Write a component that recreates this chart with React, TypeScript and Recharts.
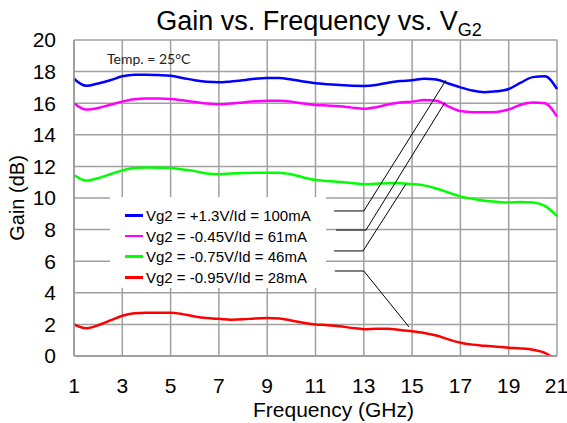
import {
  LineChart,
  Line,
  XAxis,
  YAxis,
  CartesianGrid,
  Legend,
  ReferenceLine,
} from "recharts"

// frecuencia en GHz, un punto cada 0.5 GHz
const freqs = [
  1, 1.5, 2, 2.5, 3, 3.5, 4, 4.5, 5, 5.5, 6, 6.5, 7, 7.5, 8, 8.5, 9, 9.5, 10, 10.5, 11,
  11.5, 12, 12.5, 13, 13.5, 14, 14.5, 15, 15.5, 16, 16.5, 17, 17.5, 18, 18.5, 19, 19.5, 20,
  20.5, 21,
]

const gainVg2p13 = [
  17.55, 17.1, 17.25, 17.45, 17.7, 17.8, 17.8, 17.78, 17.74, 17.6, 17.45, 17.35, 17.32, 17.38,
  17.45, 17.55, 17.6, 17.6, 17.5, 17.38, 17.26, 17.2, 17.15, 17.1, 17.09, 17.15, 17.3, 17.4,
  17.45, 17.55, 17.5, 17.25, 17.0, 16.8, 16.7, 16.75, 16.9, 17.3, 17.65, 17.7, 16.9,
]

const gainVg2m045 = [
  16.0, 15.6, 15.7, 15.9, 16.1, 16.25, 16.3, 16.3, 16.27, 16.18, 16.08, 15.98, 15.93, 15.98,
  16.05, 16.12, 16.16, 16.16, 16.1, 15.98, 15.89, 15.85, 15.8, 15.72, 15.65, 15.75, 15.92,
  16.05, 16.1, 16.2, 16.15, 15.8, 15.5, 15.43, 15.42, 15.45, 15.6, 15.9, 16.05, 16.0, 15.15,
]

const gainVg2m075 = [
  11.45, 11.1, 11.25, 11.5, 11.75, 11.9, 11.93, 11.92, 11.9, 11.8, 11.7, 11.55, 11.5, 11.55,
  11.58, 11.6, 11.6, 11.6, 11.5, 11.3, 11.14, 11.08, 11.02, 10.95, 10.87, 10.9, 10.93, 10.93,
  10.88, 10.8, 10.6, 10.35, 10.1, 9.95, 9.83, 9.76, 9.72, 9.75, 9.72, 9.5, 8.85,
]

const gainVg2m095 = [
  2.0, 1.75, 1.95, 2.25, 2.55, 2.7, 2.74, 2.74, 2.74, 2.65, 2.5, 2.4, 2.35, 2.3, 2.32, 2.38,
  2.4, 2.38, 2.25, 2.1, 2.0, 1.95, 1.88, 1.78, 1.7, 1.72, 1.73, 1.65, 1.56, 1.45, 1.3, 1.05,
  0.84, 0.72, 0.65, 0.58, 0.52, 0.48, 0.4, 0.2, -0.3,
]

const seriesNames = [
  "Vg2 = +1.3V/Id = 100mA",
  "Vg2 = -0.45V/Id = 61mA",
  "Vg2 = -0.75V/Id = 46mA",
  "Vg2 = -0.95V/Id = 28mA",
]

const xTicks = [1, 3, 5, 7, 9, 11, 13, 15, 17, 19, 21]
const yTicks = [0, 2, 4, 6, 8, 10, 12, 14, 16, 18, 20]

// líneas guía de la leyenda a cada curva: [freq, gain] x 3 puntos
const leaders = [
  [[11.77, 9.18], [13.0, 9.18], [16.4, 17.45]],
  [[11.85, 7.97], [13.09, 7.97], [16.36, 16.05]],
  [[11.77, 6.65], [12.97, 6.65], [14.75, 10.9]],
  [[11.8, 5.38], [13.0, 5.38], [14.87, 1.84]],
]

const series = [
  { key: "s1", values: gainVg2p13, color: "#0000ff" },
  { key: "s2", values: gainVg2m045, color: "#ff00ff" },
  { key: "s3", values: gainVg2m075, color: "#00ff00" },
  { key: "s4", values: gainVg2m095, color: "#ff0000" },
]

const data = freqs.map((f, i) => {
  const row: Record<string, number> = { freq: f }
  series.forEach((s) => {
    row[s.key] = s.values[i]
  })
  return row
})

const ARIAL = '"Liberation Sans", Arial, sans-serif'

function LegendBox({ payload }: { payload?: Array<{ value: string; color: string }> }) {
  if (!payload) return null
  return (
    <div
      style={{
        background: "#fff",
        width: 216,
        height: 91,
        boxSizing: "border-box",
        paddingTop: 8,
        fontFamily: ARIAL,
        fontSize: 15,
        color: "#000",
      }}
    >
      {payload.map((p) => (
        <div
          key={p.value}
          style={{ display: "flex", alignItems: "center", height: 20.7, whiteSpace: "nowrap" }}
        >
          <span
            style={{
              display: "inline-block",
              width: 18,
              height: 2.5,
              background: p.color,
              marginLeft: 15,
              marginRight: 3,
            }}
          />
          <span>{p.value}</span>
        </div>
      ))}
    </div>
  )
}

export default function App() {
  return (
    <div style={{ position: "absolute", left: 0, top: 0, width: 567, height: 423, background: "#fff" }}>
      <div
        style={{
          position: "absolute",
          left: 74,
          width: 490,
          top: 8,
          textAlign: "center",
          fontFamily: ARIAL,
          fontSize: 27,
          lineHeight: "26px",
          color: "#000",
          zIndex: 2,
        }}
      >
        Gain vs. Frequency vs. V
        <span style={{ fontSize: 18, position: "relative", top: 6 }}>G2</span>
      </div>
      <div
        style={{
          position: "absolute",
          left: 107,
          top: 50,
          fontFamily: "Lato, sans-serif",
          fontSize: 14,
          color: "#222",
          zIndex: 2,
        }}
      >
        Temp. = 25°C
      </div>
      <LineChart
        width={567}
        height={423}
        data={data}
        margin={{ top: 40, right: 10, left: 0, bottom: 0 }}
      >
        <CartesianGrid stroke="#a0a0a0" strokeWidth={1.5} />
        <XAxis
          dataKey="freq"
          type="number"
          domain={[1, 21]}
          ticks={xTicks}
          height={67}
          tickLine={false}
          tickMargin={16}
          axisLine={{ stroke: "#999", strokeWidth: 1.5 }}
          tick={{ fontSize: 21, fill: "#000", fontFamily: ARIAL }}
          label={{
            value: "Frequency (GHz)",
            position: "insideBottom",
            offset: 6,
            dx: 18,
            style: { fontSize: 21, fill: "#000", fontFamily: ARIAL },
          }}
        />
        <YAxis
          domain={[0, 20]}
          ticks={yTicks}
          allowDataOverflow
          width={74}
          tickLine={false}
          tickMargin={12}
          axisLine={{ stroke: "#999", strokeWidth: 1.5 }}
          tick={{ fontSize: 21, fill: "#000", fontFamily: ARIAL }}
          label={{
            value: "Gain (dB)",
            angle: -90,
            position: "insideLeft",
            offset: 17,
            style: { fontSize: 20, fill: "#000", fontFamily: ARIAL, textAnchor: "middle" },
          }}
        />
        {series.map((s, i) => (
          <Line
            key={s.key}
            type="monotone"
            dataKey={s.key}
            name={seriesNames[i]}
            stroke={s.color}
            strokeWidth={2.5}
            dot={false}
            isAnimationActive={false}
          />
        ))}
        {leaders.map((pts, i) =>
          pts.slice(1).map((p, j) => (
            <ReferenceLine
              key={`l${i}-${j}`}
              segment={[
                { x: pts[j][0], y: pts[j][1] },
                { x: p[0], y: p[1] },
              ]}
              stroke="#000"
              strokeWidth={1}
            />
          ))
        )}
        <Legend
          layout="horizontal"
          verticalAlign="middle"
          align="center"
          content={<LegendBox />}
          wrapperStyle={{ left: 110, top: 197, width: 216, height: 91 }}
        />
      </LineChart>
    </div>
  )
}
